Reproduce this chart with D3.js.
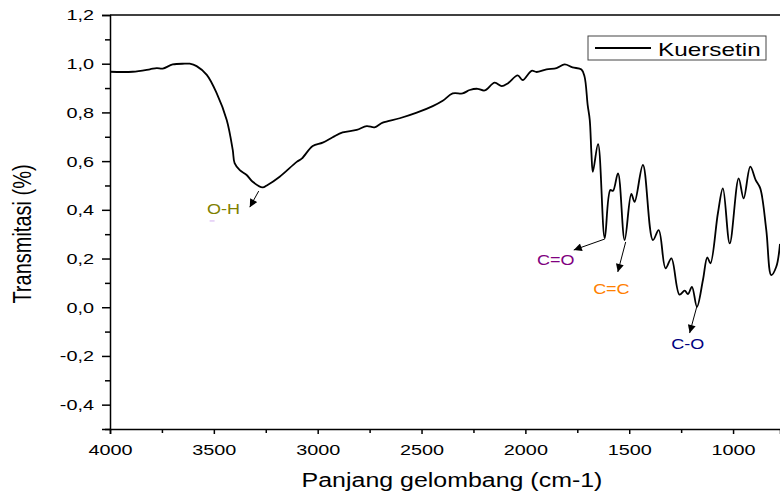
<!DOCTYPE html>
<html>
<head>
<meta charset="utf-8">
<script src="https://cdn.jsdelivr.net/npm/d3@7"></script>
<style>
    body { margin: 0; background: #fff; }
    text { font-family: "Liberation Sans", Arial, sans-serif; }
</style>
</head>
<body>
<div id="chart"></div>
<script>
// FTIR spectrum (wavenumber, transmittance)
var wavenumber = [4000, 3891, 3808, 3775, 3746, 3698, 3640, 3616, 3583, 3534, 3486, 3438, 3409, 3400, 3375, 3342, 3313, 3265, 3245, 3183,
    3101, 3077, 3024, 2976, 2928, 2880, 2812, 2764, 2726, 2687, 2605, 2523, 2446, 2398, 2350, 2302, 2268, 2230, 2196, 2148,
    2114, 2085, 2037, 2013, 1970, 1946, 1898, 1850, 1811, 1773, 1730, 1715, 1700, 1690, 1682, 1675, 1650, 1618, 1591, 1578,
    1554, 1522, 1490, 1474, 1434, 1386, 1358, 1325, 1297, 1258, 1233, 1217, 1198, 1174, 1145, 1124, 1109, 1073, 1049, 1016,
    973, 949, 917, 891, 869, 840, 816, 792, 774];
var transmitasi = [0.967, 0.967, 0.977, 0.982, 0.980, 0.997, 1.000, 1.000, 0.990, 0.954, 0.878, 0.769, 0.646, 0.592, 0.563, 0.543, 0.515, 0.492, 0.500, 0.536,
    0.597, 0.610, 0.662, 0.676, 0.698, 0.718, 0.728, 0.744, 0.739, 0.758, 0.776, 0.799, 0.826, 0.848, 0.878, 0.878, 0.892, 0.897, 0.890, 0.922,
    0.908, 0.919, 0.952, 0.933, 0.971, 0.966, 0.977, 0.982, 0.997, 0.985, 0.976, 0.947, 0.830, 0.769, 0.633, 0.556, 0.670, 0.283, 0.481, 0.478,
    0.550, 0.276, 0.465, 0.433, 0.584, 0.276, 0.317, 0.160, 0.201, 0.052, 0.068, 0.054, 0.084, 0.002, 0.112, 0.205, 0.180, 0.386, 0.488, 0.262,
    0.529, 0.447, 0.577, 0.522, 0.488, 0.317, 0.132, 0.166, 0.260];

var seriesName = 'Kuersetin';

var xTicks = [4000, 3500, 3000, 2500, 2000, 1500, 1000];
var xTickLabels = ['4000', '3500', '3000', '2500', '2000', '1500', '1000'];
var xMinorTicks = [3750, 3250, 2750, 2250, 1750, 1250, 750];
var yTicks = [-0.4, -0.2, 0, 0.2, 0.4, 0.6, 0.8, 1.0, 1.2];
var yTickLabels = ['-0,4', '-0,2', '0,0', '0,2', '0,4', '0,6', '0,8', '1,0', '1,2'];
var yMinorTicks = [-0.5, -0.3, -0.1, 0.1, 0.3, 0.5, 0.7, 0.9, 1.1];

// peak labels: arrow start/end and label position, in data units
var peakLabels = ['O-H', 'C=O', 'C=C', 'C-O'];
var peakColors = ['#808000', '#800080', '#ff8000', '#000080'];
var arrowFrom = [[3284, 0.477], [1618, 0.280], [1517, 0.268], [1175, 0.001]];
var arrowTo = [[3327, 0.411], [1767, 0.235], [1555, 0.145], [1209, -0.106]];
var labelAt = [[3453, 0.383], [1854, 0.173], [1586, 0.054], [1218, -0.172]];

var chart_width = 780
var chart_height = 495
var plot_left = 110, plot_top = 15, plot_right = 780, plot_bottom = 429
var stretch = 'scale(1.28,1)'   // the picture's text is drawn wide

var svg = d3.select('#chart')
    .append('svg')
    .attr('width', chart_width)
    .attr('height', chart_height);

var x = d3.scaleLinear().domain([4000, 774]).range([plot_left, plot_right]);
var y = d3.scaleLinear().domain([-0.5, 1.2]).range([plot_bottom, plot_top]);

var defs = svg.append('defs');

defs.append('clipPath')
    .attr('id', 'plot')
    .append('rect')
    .attr('x', plot_left).attr('y', plot_top)
    .attr('width', plot_right - plot_left).attr('height', plot_bottom - plot_top);

// top border
svg.append('line')
    .attr('x1', plot_left).attr('x2', plot_right)
    .attr('y1', plot_top).attr('y2', plot_top)
    .attr('stroke', '#000').attr('stroke-width', 1.5);

// Axes
svg.append('g')
    .attr('transform', 'translate(0,' + plot_bottom + ')')
    .call(d3.axisBottom(x).tickValues(xTicks)
        .tickFormat(function(d, i){ return xTickLabels[i]; })
        .tickSize(5).tickPadding(10));

svg.append('g')
    .attr('transform', 'translate(0,' + plot_bottom + ')')
    .call(d3.axisBottom(x).tickValues(xMinorTicks).tickFormat('').tickSize(4))
    .call(function(g){ g.select('.domain').remove(); });

svg.append('g')
    .attr('transform', 'translate(' + plot_left + ',0)')
    .call(d3.axisLeft(y).tickValues(yTicks)
        .tickFormat(function(d, i){ return yTickLabels[i]; })
        .tickSize(8).tickPadding(4.5));

svg.append('g')
    .attr('transform', 'translate(' + plot_left + ',0)')
    .call(d3.axisLeft(y).tickValues(yMinorTicks).tickFormat('').tickSize(5))
    .call(function(g){ g.select('.domain').remove(); });

svg.selectAll('.domain, .tick line')
    .attr('stroke', '#000')
    .attr('stroke-width', 1.5);

svg.selectAll('.tick text')
    .attr('font-size', 15.5)
    .attr('font-family', '"Liberation Sans", Arial, sans-serif')
    .attr('fill', '#000')
    .attr('transform', stretch);

// Axis titles
svg.append('text')
    .text('Panjang gelombang (cm-1)')
    .attr('transform', 'translate(452,487) ' + stretch)
    .attr('text-anchor', 'middle')
    .attr('font-size', 19.5);

svg.append('text')
    .text('Transmitasi (%)')
    .attr('transform', 'translate(31,234) ' + stretch + ' rotate(-90)')
    .attr('text-anchor', 'middle')
    .attr('font-size', 20);

// Spectrum line
var points = wavenumber.map(function(w, i){ return [w, transmitasi[i]]; });

var line = d3.line()
    .x(function(d){ return x(d[0]); })
    .y(function(d){ return y(d[1]); })
    .curve(d3.curveCatmullRom.alpha(0.5));

svg.append('path')
    .datum(points)
    .attr('d', line)
    .attr('clip-path', 'url(#plot)')
    .attr('fill', 'none')
    .attr('stroke', '#000')
    .attr('stroke-width', 1.8)
    .attr('stroke-linejoin', 'round');

// Peak arrows + labels
defs.append('marker')
    .attr('id', 'arrow')
    .attr('markerUnits', 'userSpaceOnUse')
    .attr('viewBox', '0 0 10 10')
    .attr('refX', 10).attr('refY', 5)
    .attr('markerWidth', 10).attr('markerHeight', 8)
    .attr('orient', 'auto')
    .append('path')
    .attr('d', 'M0,0 L10,5 L0,10 Z')
    .attr('fill', '#000');

svg.selectAll('line.arrow')
    .data(peakLabels)
    .enter()
    .append('line')
    .attr('class', 'arrow')
    .attr('x1', function(d, i){ return x(arrowFrom[i][0]); })
    .attr('y1', function(d, i){ return y(arrowFrom[i][1]); })
    .attr('x2', function(d, i){ return x(arrowTo[i][0]); })
    .attr('y2', function(d, i){ return y(arrowTo[i][1]); })
    .attr('stroke', '#000')
    .attr('stroke-width', 1)
    .attr('marker-end', 'url(#arrow)');

svg.selectAll('text.peak')
    .data(peakLabels)
    .enter()
    .append('text')
    .attr('class', 'peak')
    .text(function(d){ return d; })
    .attr('transform', function(d, i){
        return 'translate(' + x(labelAt[i][0]) + ',' + y(labelAt[i][1]) + ') scale(1.2,1)';
    })
    .attr('text-anchor', 'middle')
    .attr('font-size', 15)
    .attr('fill', function(d, i){ return peakColors[i]; });

// small stray mark under O-H in the original
svg.append('line')
    .attr('x1', x(labelAt[0][0]) - 14).attr('x2', x(labelAt[0][0]) - 9)
    .attr('y1', y(labelAt[0][1]) + 7).attr('y2', y(labelAt[0][1]) + 7)
    .attr('stroke', '#d4b0f0').attr('stroke-width', 1);

// Legend
var legend = svg.append('g').attr('transform', 'translate(588,36)');

legend.append('rect')
    .attr('width', 178).attr('height', 24)
    .attr('fill', '#fff')
    .attr('stroke', '#444')
    .attr('stroke-width', 1);

legend.append('line')
    .attr('x1', 7).attr('x2', 63)
    .attr('y1', 12).attr('y2', 12)
    .attr('stroke', '#000').attr('stroke-width', 1.8);

legend.append('text')
    .text(seriesName)
    .attr('transform', 'translate(70,19.5) ' + stretch)
    .attr('font-size', 19);
</script>
</body>
</html>
